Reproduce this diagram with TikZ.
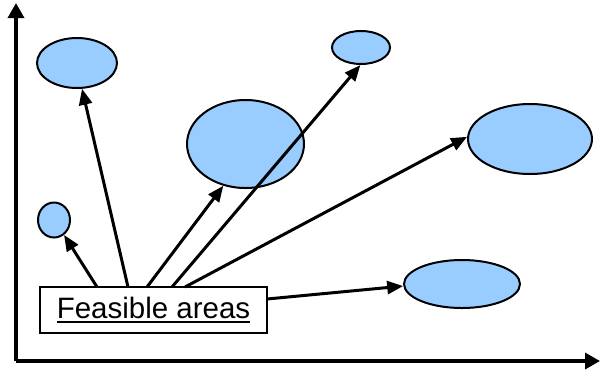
\documentclass[tikz,border=0pt]{standalone}
\usepackage{fontspec}
\setmainfont{Liberation Sans}
\usetikzlibrary{arrows.meta,shapes.geometric}
\definecolor{areablue}{RGB}{153,204,255}
\newcommand\thickul[1]{{\setbox0\hbox{#1}\rlap{\rule[-5pt]{\wd0}{2pt}}\box0}}
\begin{document}
\begin{tikzpicture}[x=1pt,y=-1pt,
  area/.style={ellipse,draw=black,line width=2pt,fill=areablue,inner sep=0pt},
  axis/.style={line width=3.4pt,-{Triangle[length=15pt,width=16pt]}},
  link/.style={line width=3pt,-{Triangle[length=16pt,width=13pt]}},
  labelbox/.style={draw=black,line width=1.8pt,fill=white,inner sep=0pt,minimum width=227pt,minimum height=46pt,font=\fontsize{29.5}{33}\selectfont}]
\useasboundingbox (0,0) rectangle (600,376);
% axes
\coordinate (origin) at (16,361);
\coordinate (ytip) at (16,3);
\coordinate (xtip) at (600,361);
\draw[axis] (origin) -- (ytip);
\draw[axis] (origin) -- (xtip);
% areas
\node[area,minimum width=80pt,minimum height=50pt] (e1) at (77,63) {};
\node[area,minimum width=32pt,minimum height=35pt] (e2) at (54,220) {};
\node[area,minimum width=117pt,minimum height=88pt] (e3) at (245.5,144) {};
\node[area,minimum width=58pt,minimum height=33pt] (e4) at (361,47.5) {};
\node[area,minimum width=124pt,minimum height=70pt] (e5) at (530,139) {};
\node[area,minimum width=116pt,minimum height=48pt] (e6) at (462,284) {};
% label
\node[labelbox] (lab) at (153.5,310) {\thickul{Feasible areas}};
\coordinate (s1) at (97,287);
\coordinate (s2) at (128,287);
\coordinate (s3) at (147,287);
\coordinate (s4) at (172,287);
\coordinate (s5) at (185,287);
\coordinate (s6) at (267,299);
\draw[link] (s1) -- (e2.-56);
\draw[link] (s2) -- (e1.-79);
\draw[link] (s3) -- (e3.-118);
\draw[link] (s4) -- (e4.-92);
\draw[link] (s5) -- (e5.178);
\draw[link] (s6) -- (e6.182);
\end{tikzpicture}
\end{document}
